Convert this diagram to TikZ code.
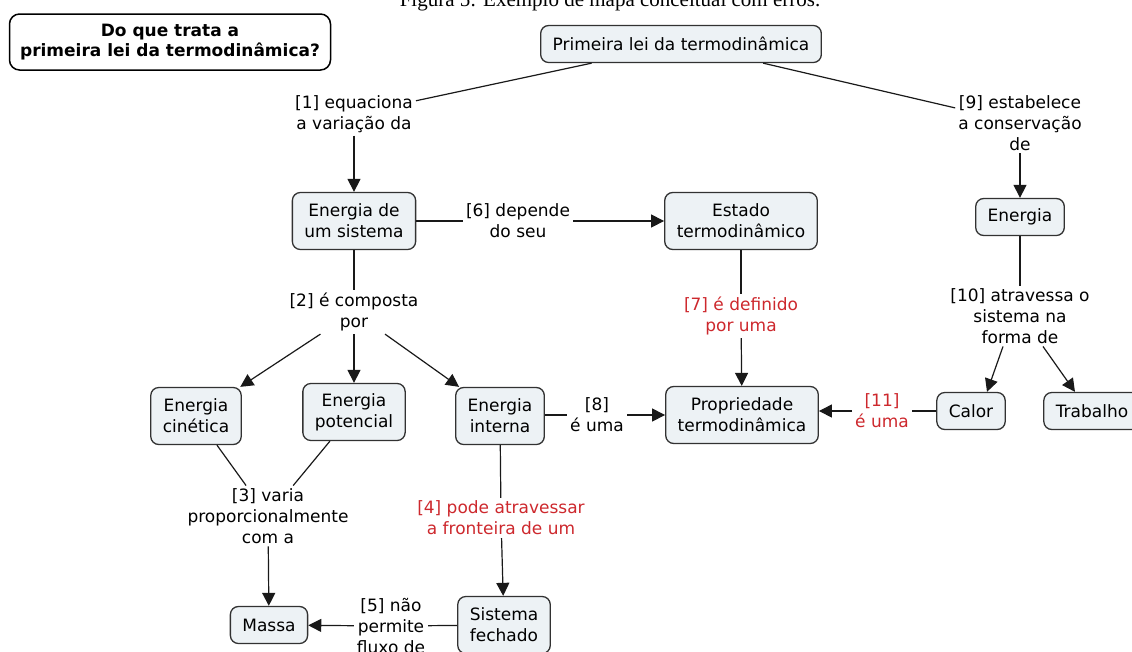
\documentclass[tikz,border=0pt]{standalone}
\usepackage{fontspec}
\usepackage{xcolor}
\usepackage{tikz}
\usetikzlibrary{arrows.meta, positioning}
\newfontfamily\mapfont{DejaVu Sans}
\newfontfamily\capfont{Liberation Serif}
\definecolor{conceptFill}{RGB}{237,242,245}
\definecolor{conceptLine}{RGB}{50,50,50}
\definecolor{errRed}{RGB}{205,40,45}
\tikzset{
    concept/.style={rectangle, rounded corners=8pt, draw=conceptLine, line width=1.3pt, fill=conceptFill, align=center, inner xsep=12pt, inner ysep=4pt, minimum height=37pt, font=\mapfont\fontsize{17}{20.7}\selectfont},
    twoLine/.style={minimum height=57pt},
    linkWord/.style={align=center, inner xsep=3pt, inner ysep=3pt, font=\mapfont\fontsize{17}{20.7}\selectfont},
    errWord/.style={linkWord, text=errRed},
    question/.style={rectangle, rounded corners=10pt, draw=black, line width=1.5pt, fill=white, align=center, minimum width=321pt, minimum height=56pt, font=\mapfont\bfseries\fontsize{17}{20.7}\selectfont},
    link/.style={line width=1.2pt, draw=black!90},
    arrow/.style={link, -{Triangle[length=13pt, width=13pt]}}
}

\begin{document}
\begin{tikzpicture}[x=1pt, y=-1pt]
    \useasboundingbox (0,0) rectangle (1132,651);

    % Caption (cut by the crop)
    \node[font=\capfont\fontsize{21}{25}\selectfont, anchor=base, inner sep=0pt] (caption) at (610,6) {Figura 5: Exemplo de mapa conceitual com erros.};

    % Focus question
    \node[question] (question) at (170,42) {Do que trata a\\primeira lei da termodinâmica?};

    % Concepts
    \node[concept] (lei) at (681,44) {Primeira lei da termodinâmica};
    \node[concept, twoLine] (sistema) at (354,221) {Energia de\\um sistema};
    \node[concept, twoLine] (estado) at (741,221) {Estado\\termodinâmico};
    \node[concept] (energia) at (1020,217) {Energia};
    \node[concept, twoLine] (cinetica) at (196,416) {Energia\\cinética};
    \node[concept, twoLine] (potencial) at (354,412) {Energia\\potencial};
    \node[concept, twoLine] (interna) at (500,416) {Energia\\interna};
    \node[concept, twoLine] (propriedade) at (742,415) {Propriedade\\termodinâmica};
    \node[concept] (calor) at (971,411) {Calor};
    \node[concept] (trabalho) at (1092,411) {Trabalho};
    \node[concept] (massa) at (269,625) {Massa};
    \node[concept, twoLine] (fechado) at (504,625) {Sistema\\fechado};

    % Linking phrases
    \node[linkWord] (l1) at (354,114) {[1] equaciona\\a variação da};
    \node[linkWord] (l2) at (354,312) {[2] é composta\\por};
    \node[linkWord] (l3) at (268,516) {[3] varia\\proporcionalmente\\com a};
    \node[errWord] (l4) at (501,518) {[4] pode atravessar\\a fronteira de um};
    \node[linkWord] (l5) at (391,626) {[5] não\\permite\\fluxo de};
    \node[linkWord] (l6) at (518,221) {[6] depende\\do seu};
    \node[errWord] (l7) at (741,316) {[7] é definido\\por uma};
    \node[linkWord] (l8) at (597,415) {[8]\\é uma};
    \node[linkWord] (l9) at (1020,123) {[9] estabelece\\a conservação\\de};
    \node[linkWord] (l10) at (1020,316) {[10] atravessa o\\sistema na\\forma de};
    \node[errWord] (l11) at (882,411) {[11]\\é uma};

    % Connectors
    \draw[link] (lei) -- (l1);
    \draw[arrow] (l1) -- (sistema);
    \draw[link] (lei) -- (l9);
    \draw[arrow] (l9) -- (energia);
    \draw[link] (sistema) -- (l6);
    \draw[arrow] (l6) -- (estado);
    \draw[link] (sistema) -- (l2);
    \draw[arrow] (l2) -- (cinetica);
    \draw[arrow] (l2) -- (potencial);
    \draw[arrow] (l2) -- (interna);
    \draw[link] (cinetica) -- (l3);
    \draw[link] (potencial) -- (l3);
    \draw[arrow] (l3) -- (massa);
    \draw[link] (interna) -- (l4);
    \draw[arrow] (l4) -- (fechado);
    \draw[link] (fechado) -- (l5);
    \draw[arrow] (l5) -- (massa);
    \draw[link] (interna.east |- l8) -- (l8);
    \draw[arrow] (l8) -- (propriedade);
    \draw[link] (estado) -- (l7);
    \draw[arrow] (l7) -- (propriedade);
    \draw[link] (energia) -- (l10);
    \draw[arrow] ([xshift=-17pt]l10.south) -- ([xshift=16pt]calor.north);
    \draw[arrow] ([xshift=23pt]l10.south) -- ([xshift=-17pt]trabalho.north);
    \draw[link] (calor) -- (l11);
    \draw[arrow] (l11) -- (l11 -| propriedade.east);
\end{tikzpicture}
\end{document}
